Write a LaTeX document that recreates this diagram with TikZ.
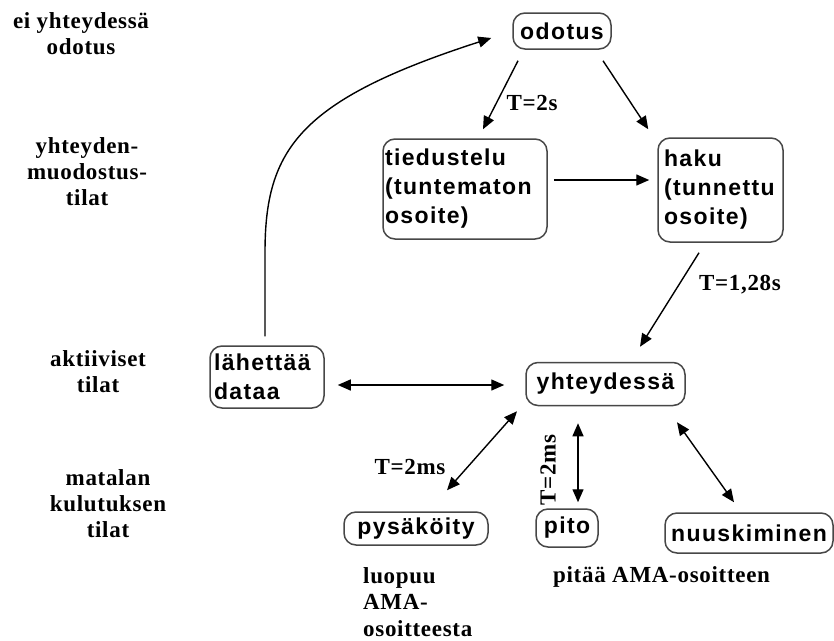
\documentclass[tikz,border=0pt]{standalone}
\usepackage{fontspec}
\usetikzlibrary{arrows.meta,calc}
\newfontfamily\boxfont{Liberation Sans}[LetterSpace=6]
\newfontfamily\labfont{Liberation Serif}[LetterSpace=3]

\tikzset{
  state/.style={draw=black!72, line width=1.5pt, rounded corners=12pt,
    inner sep=0pt, font=\boxfont\bfseries\fontsize{23}{29}\selectfont},
  textbox/.style={state, align=left},
  lab/.style={inner sep=0pt, align=center,
    font=\labfont\bfseries\fontsize{23}{26}\selectfont},
  note/.style={inner sep=0pt, align=left,
    font=\labfont\bfseries\fontsize{23}{26.5}\selectfont},
  tlab/.style={inner sep=0pt, font=\labfont\bfseries\fontsize{23}{26}\selectfont},
  arr/.style={line width=1.4pt, -{Triangle[length=13pt,width=11pt]}},
  darr/.style={line width=1.4pt, {Triangle[length=13pt,width=11pt]}-{Triangle[length=13pt,width=11pt]}}
}

\begin{document}
\begin{tikzpicture}[x=1pt, y=-1pt]
  \fill[white] (0,0) rectangle (834,640);
  \useasboundingbox (0,0) rectangle (834,640);

  % states
  \node[state, minimum width=98pt, minimum height=36pt] (odotus) at (562,31) {odotus};
  \node[textbox, text width=160pt, inner xsep=2pt, minimum height=100pt] (tiedu) at (465,189)
    {tiedustelu\\(tuntematon\\osoite)};
  \node[textbox, text width=113pt, inner xsep=6pt, minimum height=104pt] (haku) at (720.5,190)
    {haku\\(tunnettu\\osoite)};
  \node[textbox, text width=106pt, inner xsep=4pt, minimum height=62pt] (lah) at (267,377)
    {lähettää\\dataa};
  \node[state, minimum width=159pt, minimum height=43pt] (yht) at (605.5,384) {yhteydessä};
  \node[state, minimum width=144pt, minimum height=33pt] (pys) at (416,528.5) {pysäköity};
  \node[state, minimum width=62pt, minimum height=38pt] (pito) at (567,528) {pito};
  \node[state, minimum width=168pt, minimum height=40pt] (nuus) at (749,533) {nuuskiminen};

  % level labels
  \node[lab] (l1) at (81,34) {ei yhteydessä\\odotus};
  \node[lab] (l2) at (87,172) {yhteyden-\\muodostus-\\tilat};
  \node[lab] (l3) at (98,372) {aktiiviset\\tilat};
  \node[lab] (l4) at (108,504) {matalan\\kulutuksen\\tilat};

  % notes under the low-power states
  \node[note, anchor=north west] (n1) at (363,567) {luopuu\\AMA-\\osoitteesta};
  \node[note, anchor=base west] (n2) at (553,582) {pitää AMA-osoitteen};

  % transitions
  \draw[arr] ($(odotus.south)+(-44,11)$) -- ($(tiedu.north)+(18,-9)$);
  \draw[arr] ($(odotus.south)+(41,11)$) -- ($(haku.north west)+(-9,-8)$);
  \draw[arr] ($(tiedu.east)+(6,-9)$) -- ($(haku.west)+(-8,-10)$);
  \draw[arr] ($(haku.south)+(-21.5,10)$) -- ($(yht.north)+(34.5,-15)$);
  \draw[darr] ($(lah.east)+(13,8)$) -- ($(yht.west)+(-21,1)$);
  \draw[darr] ($(yht.south)+(-88.5,5)$) -- ($(pys.north)+(31,-21)$);
  \draw[darr] ($(yht.south)+(-27.5,17)$) -- ($(pito.north)+(11,-6)$);
  \draw[darr] ($(yht.south)+(71.5,16)$) -- ($(nuus.north)+(-15,-10)$);
  \draw[arr] ($(lah.north)+(-2,-9)$) -- ++(0,-84)
    .. controls +(0,-103) and +(-192,62) .. ($(odotus.west)+(-21,7)$);

  % timing labels
  \node[tlab] (t1) at (532,103) {T=2s};
  \node[tlab] (t2) at (740,285) {T=1,28s};
  \node[tlab] (t3) at (410,467) {T=2ms};
  \node[tlab, rotate=90] (t4) at (548,470) {T=2ms};
\end{tikzpicture}
\end{document}
